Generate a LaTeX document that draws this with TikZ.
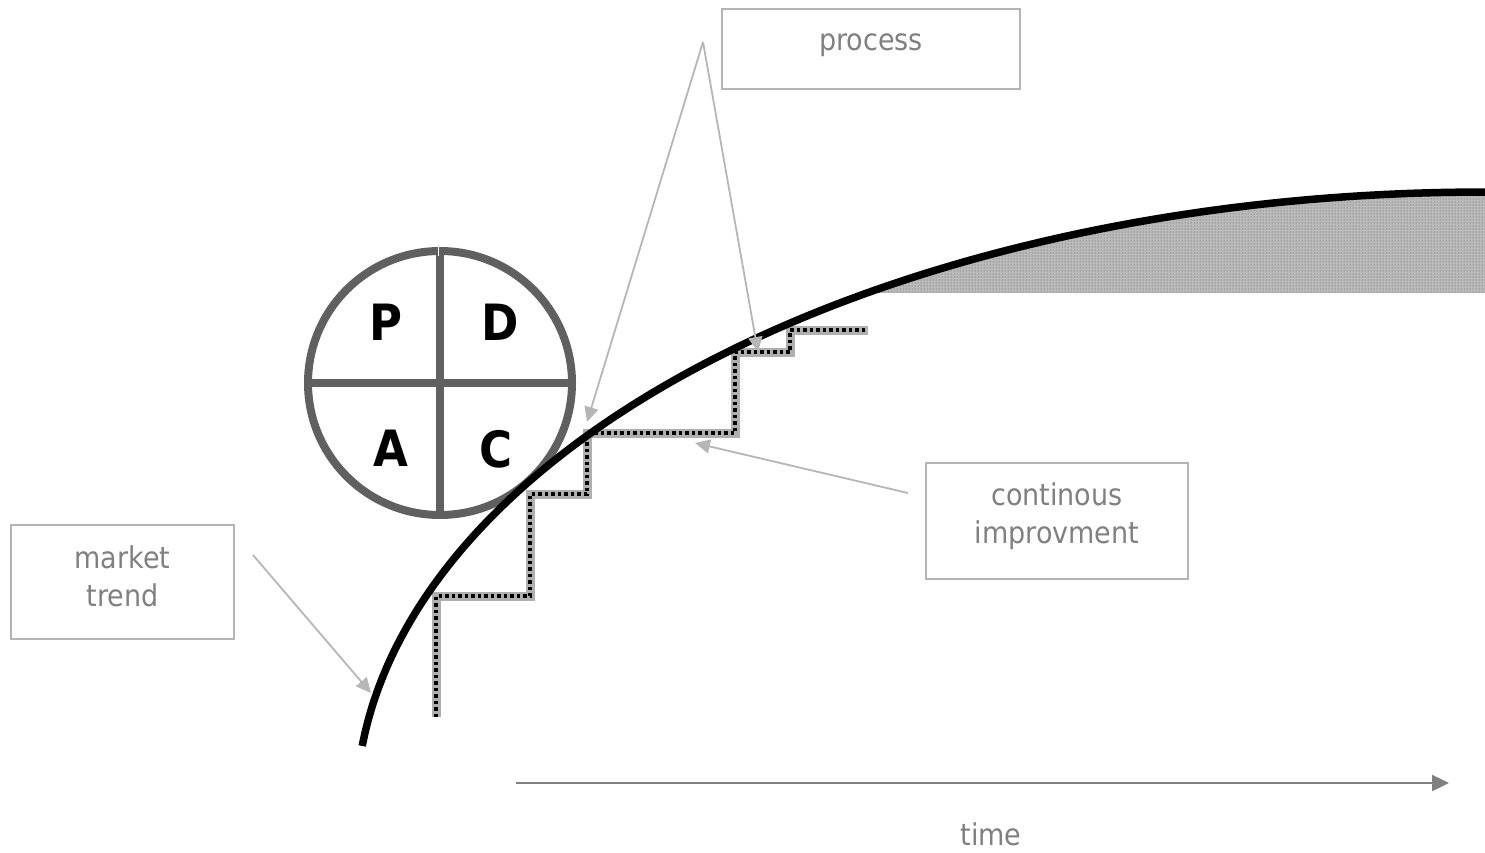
\documentclass[tikz,border=0pt]{standalone}
\usepackage{fontspec}
\setmainfont{DejaVu Sans Condensed}
\newfontfamily\pdcafont{DejaVu Sans Condensed Bold}
\usetikzlibrary{arrows.meta,patterns}

\definecolor{txtgray}{RGB}{128,128,128}
\definecolor{boxgray}{RGB}{180,180,180}
\definecolor{callgray}{RGB}{182,182,182}
\definecolor{axisgray}{RGB}{128,128,128}
\definecolor{pdcagray}{RGB}{96,96,96}
\definecolor{stairgray}{RGB}{175,175,175}

\tikzset{
  tbox/.style={draw=boxgray, line width=1.6pt, inner sep=0pt},
  lbl/.style={text=txtgray, font=\fontsize{30}{38}\selectfont, align=center, inner sep=0pt},
  pdcaletter/.style={text=black, font=\pdcafont\fontsize{50}{50}\selectfont, inner sep=0pt},
  callout/.style={draw=callgray, line width=1.8pt, -{Triangle[length=15pt,width=14pt]}, fill=callgray},
  timeaxis/.style={draw=axisgray, line width=2.4pt, -{Triangle[length=17pt,width=16pt]}, fill=axisgray},
  pdcaline/.style={draw=pdcagray, line width=8pt},
  trendline/.style={draw=black, line width=7.5pt},
  stairbase/.style={draw=stairgray, line width=9pt, line join=miter},
  stairdots/.style={draw=black, line width=4.5pt, dash pattern=on 3.5pt off 3pt, line join=miter},
}

% the staircase of continuous improvement
\def\stairpath{(436,717) -- (436,596) -- (530,596) -- (530,494) -- (587,494) -- (587,433) -- (735,433) -- (735,352) -- (790,352) -- (790,330) -- (868,330)}

\begin{document}
\begin{tikzpicture}[x=1pt,y=-1pt]
\useasboundingbox (0,0) rectangle (1485,853);

% stippled gap between the trend and the achieved level
\fill[black!27] plot[domain=123.2:90, samples=60] ({1485+1129*cos(\x)},{810.6-618.6*sin(\x)}) -- (1485,293) -- cycle;
\fill[pattern=dots, pattern color=black!65] plot[domain=123.2:90, samples=60] ({1485+1129*cos(\x)},{810.6-618.6*sin(\x)}) -- (1485,293) -- cycle;

% PDCA wheel
\draw[pdcaline] (440,383) circle (132);
\draw[pdcaline] (440,255) -- (440,515);
\draw[pdcaline] (308,383) -- (572,383);
\draw[white, line width=1.2pt] (438.5,244) -- (438.5,256);
\node[pdcaletter] (P) at (386,322) {P};
\node[pdcaletter] (D) at (500,322) {D};
\node[pdcaletter] (A) at (391,448) {A};
\node[pdcaletter] (C) at (496,449) {C};

% staircase
\draw[stairbase] \stairpath;
\draw[stairdots] \stairpath;

% market trend curve
\draw[trendline] plot[domain=174:90, samples=150] ({1485+1129*cos(\x)},{810.6-618.6*sin(\x)});

% text boxes
\node[tbox, minimum width=298pt, minimum height=80pt] (procbox) at (871,49) {};
\node[lbl] (proctxt) at (871,45) {process};
\node[tbox, minimum width=262pt, minimum height=116pt] (contbox) at (1057,521) {};
\node[lbl] (conttxt) at (1057,516) {continous\\improvment};
\node[tbox, minimum width=223pt, minimum height=114pt] (mktbox) at (122.5,582) {};
\node[lbl] (mkttxt) at (122.5,576) {market\\trend};
\node[lbl] (timetxt) at (991,834) {time};

% callout arrows
\coordinate (procfoot) at (703,42);
\coordinate (procA) at (587,422);
\coordinate (procB) at (758,352);
\coordinate (contfoot) at (908,493);
\coordinate (contA) at (695,443);
\coordinate (mktfoot) at (253,555);
\coordinate (mktA) at (371,693);
\draw[callout] (procfoot) -- (procA);
\draw[callout] (procfoot) -- (procB);
\draw[callout] (contfoot) -- (contA);
\draw[callout] (mktfoot) -- (mktA);

% time axis
\coordinate (tstart) at (516,783);
\coordinate (tend) at (1449,783);
\draw[timeaxis] (tstart) -- (tend);
\end{tikzpicture}
\end{document}
